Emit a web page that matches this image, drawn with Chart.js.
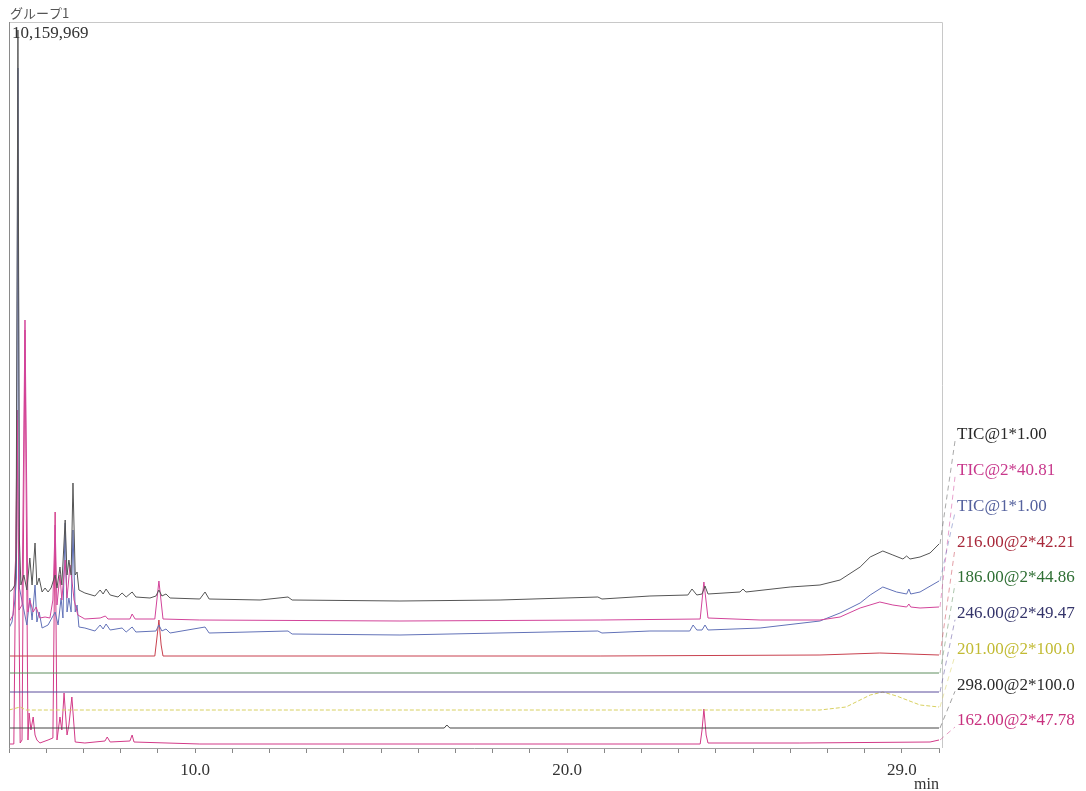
<!DOCTYPE html>
<html>
<head>
<meta charset="utf-8">
<script src="https://cdn.jsdelivr.net/npm/chart.js@4/dist/chart.umd.min.js"></script>
<style>
  body { margin: 0; background: #fff; }
  #wrap { width: 1086px; height: 791px; }
</style>
</head>
<body>
<div id="wrap"><canvas id="myChart" width="1086" height="791"></canvas></div>
<script>
// retention time (min) and stacked intensity for each trace
var tic1Time = [5.00, 5.08, 5.16, 5.19, 5.24, 5.28, 5.32, 5.40, 5.48, 5.56, 5.62, 5.70, 5.75, 5.81, 5.89, 5.97, 6.05, 6.13, 6.24, 6.29, 6.37, 6.42, 6.51, 6.56, 6.61, 6.67, 6.72, 6.78, 6.83, 6.88, 7.04, 7.31, 7.45, 7.53, 7.61, 7.72, 7.93, 8.04, 8.15, 8.31, 8.41, 8.79, 8.95, 9.03, 9.11, 9.22, 9.33, 10.13, 10.27, 10.38, 11.75, 12.50, 12.61, 15.51, 18.20, 20.83, 20.94, 22.23, 23.25, 23.36, 23.49, 23.63, 23.71, 23.79, 24.65, 24.73, 24.81, 26.00, 26.80, 27.34, 27.88, 28.15, 28.49, 28.76, 29.03, 29.13, 29.22, 29.49, 29.76, 30.00];
var tic1Val = [156, 158, 163, 188, 718, 208, 163, 173, 158, 190, 163, 205, 163, 170, 156, 160, 156, 160, 173, 160, 181, 163, 228, 173, 188, 173, 265, 173, 176, 158, 155, 152, 158, 154, 159, 153, 151, 155, 151, 156, 151, 150, 152, 158, 152, 154, 150, 149, 156, 149, 148, 151, 148, 147, 148, 151, 149, 152, 153, 159, 153, 154, 162, 154, 156, 159, 156, 161, 163, 168, 181, 191, 197, 193, 189, 192, 189, 191, 195, 204];

var tic2Time = [5.00, 5.11, 5.19, 5.22, 5.27, 5.35, 5.43, 5.51, 5.56, 5.65, 5.73, 5.83, 5.97, 6.10, 6.18, 6.24, 6.29, 6.37, 6.42, 6.51, 6.56, 6.64, 6.69, 6.75, 6.85, 7.04, 7.45, 7.59, 7.66, 8.25, 8.31, 8.39, 8.92, 9.03, 9.14, 10.13, 15.51, 20.89, 23.58, 23.68, 23.79, 25.19, 26.80, 27.34, 27.88, 28.41, 28.76, 29.13, 29.19, 29.24, 29.49, 30.00];
var tic2Val = [126, 133, 200, 328, 138, 143, 428, 136, 148, 136, 141, 130, 131, 130, 148, 223, 143, 173, 148, 188, 150, 183, 168, 148, 133, 129, 130, 132, 129, 129, 134, 129, 129, 167, 129, 128, 127, 128, 129, 166, 130, 128, 128, 131, 140, 146, 143, 141, 144, 141, 140, 141];

var tic1bTime = [5.00, 5.08, 5.16, 5.20, 5.24, 5.28, 5.40, 5.48, 5.56, 5.62, 5.70, 5.75, 5.81, 5.89, 6.05, 6.24, 6.32, 6.40, 6.45, 6.51, 6.56, 6.61, 6.67, 6.72, 6.78, 6.83, 6.88, 7.04, 7.31, 7.45, 7.53, 7.61, 7.72, 8.04, 8.15, 8.31, 8.41, 8.95, 9.03, 9.11, 9.22, 9.33, 10.27, 10.38, 12.50, 12.61, 15.51, 20.83, 20.94, 22.23, 23.30, 23.39, 23.49, 23.63, 23.71, 23.79, 25.19, 26.80, 27.34, 27.88, 28.15, 28.49, 28.86, 29.13, 29.19, 29.24, 29.49, 30.00];
var tic1bVal = [120, 126, 148, 170, 680, 160, 138, 123, 150, 128, 163, 126, 136, 120, 123, 136, 123, 150, 130, 225, 136, 150, 136, 218, 136, 143, 121, 120, 117, 123, 119, 124, 118, 120, 116, 121, 116, 117, 123, 117, 119, 115, 121, 115, 117, 114, 113, 117, 115, 117, 117, 123, 118, 118, 123, 118, 120, 127, 135, 145, 153, 161, 156, 154, 159, 154, 156, 167];

var m216Time = [5.00, 8.92, 8.97, 9.03, 9.09, 9.14, 20.89, 26.80, 28.41, 30.00];
var m216Val = [92, 92, 108, 128, 103, 92, 92, 93, 95, 93];

var m186Time = [5.00, 17.50, 30.00];
var m186Val = [75, 75, 75];

var m246Time = [5.00, 17.50, 30.00];
var m246Val = [56, 56, 56];

var m201Time = [5.00, 5.30, 5.45, 26.80, 27.50, 28.15, 28.49, 28.86, 29.49, 30.00];
var m201Val = [38, 41, 38, 38, 41, 53, 56, 52, 43, 41];

var m298Time = [5.00, 16.70, 16.77, 16.85, 30.00];
var m298Val = [20, 20, 23, 20, 20];

var m162Time = [5.00, 5.13, 5.22, 5.30, 5.35, 5.43, 5.51, 5.54, 5.59, 5.65, 5.70, 5.75, 5.83, 6.05, 6.18, 6.24, 6.29, 6.37, 6.42, 6.48, 6.56, 6.61, 6.69, 6.78, 7.04, 7.58, 7.64, 7.72, 8.25, 8.31, 8.36, 10.13, 23.58, 23.63, 23.68, 23.74, 23.79, 26.26, 29.76, 30.00];
var m162Val = [4, 4, 338, 5, 8, 418, 8, 35, 18, 31, 13, 8, 5, 8, 10, 236, 8, 31, 18, 55, 13, 23, 51, 6, 5, 7, 11, 6, 7, 13, 6, 4, 4, 18, 39, 13, 5, 5, 6, 8];

var seriesNames = ['TIC@1*1.00', 'TIC@2*40.81', 'TIC@1*1.00', '216.00@2*42.21', '186.00@2*44.86', '246.00@2*49.47', '201.00@2*100.0', '298.00@2*100.0', '162.00@2*47.78'];
var xLabelTicks = [10, 20, 29];

var lineColors = ['#555555', '#d2449a', '#6272b8', '#c8404e', '#5e8e5e', '#5a4c9c', '#d8d060', '#444444', '#d23a88'];
var textColors = ['#2a2a2a', '#c8388c', '#55629e', '#a8283a', '#2f6f34', '#34346a', '#c2bb34', '#2a2a2a', '#c8307e'];

var times = [tic1Time, tic2Time, tic1bTime, m216Time, m186Time, m246Time, m201Time, m298Time, m162Time];
var vals = [tic1Val, tic2Val, tic1bVal, m216Val, m186Val, m246Val, m201Val, m298Val, m162Val];

var datasets = [];
for (var i = 0; i < seriesNames.length; i++) {
    var pts = [];
    for (var k = 0; k < times[i].length; k++) {
        pts.push({ x: times[i][k], y: vals[i][k] });
    }
    datasets.push({
        label: seriesNames[i],
        data: pts,
        showLine: true,
        borderColor: lineColors[i],
        borderWidth: 1,
        borderDash: i === 6 ? [4, 2] : [],
        pointRadius: 0,
        tension: 0
    });
}

// frame, header text, and the labels at the right with their slanted leaders
var decor = {
    id: 'decor',
    afterDraw: function (chart) {
        var ctx = chart.ctx;
        var a = chart.chartArea;
        ctx.save();
        ctx.strokeStyle = '#c8c8c8';
        ctx.lineWidth = 1;
        ctx.beginPath();
        ctx.moveTo(a.left + 0.5, a.bottom);
        ctx.lineTo(a.left + 0.5, a.top + 0.5);
        ctx.lineTo(a.right + 3.5, a.top + 0.5);
        ctx.lineTo(a.right + 3.5, a.bottom);
        ctx.stroke();
        ctx.strokeStyle = '#8a8a8a';
        ctx.beginPath();
        ctx.moveTo(a.left + 0.5, a.top);
        ctx.lineTo(a.left + 0.5, a.bottom);
        ctx.stroke();

        ctx.fillStyle = '#555';
        ctx.font = '13px "Noto Sans CJK JP"';
        ctx.textBaseline = 'middle';
        ctx.fillText('グループ1', 10, 13);
        ctx.fillStyle = '#333';
        ctx.font = '17px "Liberation Serif"';
        ctx.fillText('10,159,969', 12, 34);

        var yScale = chart.scales.y;
        var labelY0 = 435, labelStep = 35.75;
        for (var i = 0; i < seriesNames.length; i++) {
            var ly = labelY0 + i * labelStep;
            var endVal = vals[i][vals[i].length - 1];
            var ey = yScale.getPixelForValue(endVal);
            ctx.strokeStyle = lineColors[i];
            ctx.globalAlpha = 0.5;
            ctx.setLineDash([5, 4]);
            ctx.beginPath();
            ctx.moveTo(a.right + 1, ey);
            ctx.lineTo(a.right + 16, ly + 6);
            ctx.stroke();
            ctx.globalAlpha = 1;
            ctx.setLineDash([]);
            ctx.fillStyle = textColors[i];
            ctx.font = '17px "Liberation Serif"';
            ctx.fillText(seriesNames[i], 957, ly);
        }
        ctx.restore();
    }
};

var chart = new Chart(document.getElementById('myChart'), {
    type: 'scatter',
    data: { datasets: datasets },
    options: {
        responsive: false,
        animation: false,
        layout: { padding: { left: 9, top: 22, right: 147, bottom: 0 } },
        plugins: {
            legend: { display: false },
            tooltip: { enabled: false }
        },
        scales: {
            x: {
                type: 'linear',
                min: 5,
                max: 30,
                afterFit: function (scale) { scale.height = 43; },
                grid: {
                    drawOnChartArea: false,
                    drawTicks: true,
                    tickLength: 5,
                    color: '#888'
                },
                border: { display: true, color: '#a0a0a0' },
                ticks: {
                    stepSize: 1,
                    autoSkip: false,
                    maxRotation: 0,
                    padding: 7,
                    color: '#333',
                    font: { family: 'Liberation Serif', size: 17 },
                    callback: function (value) {
                        return xLabelTicks.indexOf(value) >= 0 ? value.toFixed(1) : '';
                    }
                },
                title: {
                    display: true,
                    text: 'min',
                    align: 'end',
                    color: '#333',
                    padding: { top: 0, bottom: -3 },
                    font: { family: 'Liberation Serif', size: 16 }
                }
            },
            y: {
                display: false,
                min: 0,
                max: 726
            }
        }
    },
    plugins: [decor]
});
</script>
</body>
</html>
